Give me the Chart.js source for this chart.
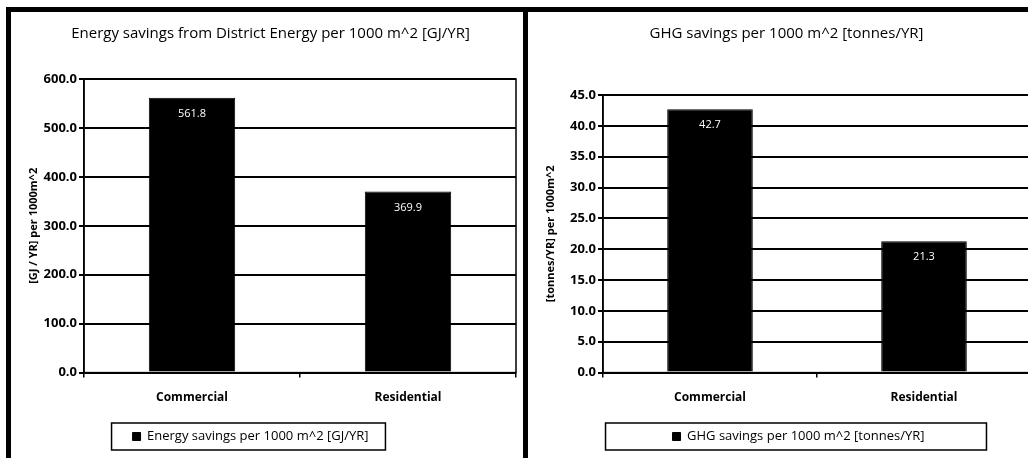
<!DOCTYPE html>
<html>
<head>
<meta charset="utf-8">
<script src="https://cdn.jsdelivr.net/npm/chart.js@4/dist/chart.umd.min.js"></script>
<style>
  body { margin: 0; background: #fff; width: 1028px; height: 458px; overflow: hidden; position: relative; }
  .panel { position: absolute; top: 7px; height: 460px; border: 5px solid #000; border-bottom: none; background: #fff; }
  #p1 { left: 6px; width: 512px; }
  #p2 { left: 523px; width: 520px; border-right: none; }
  canvas { display: block; }
</style>
</head>
<body>
<div class="panel" id="p1"><canvas id="energy" width="512" height="446"></canvas></div>
<div class="panel" id="p2"><canvas id="ghg" width="510" height="446"></canvas></div>
<script>
const CATEGORIES = ['Commercial', 'Residential'];
const ENERGY_VALUES = [561.8, 369.9];
const GHG_VALUES = [42.7, 21.3];
const ENERGY_TICKS = { max: 600, step: 100 };
const GHG_TICKS = { max: 45, step: 5 };

const FONT = "'Open Sans', 'DejaVu Sans', sans-serif";

// frame round the plot area, white value labels, box round the legend
const extras = {
  id: 'extras',
  afterLayout(chart, args, opts) {
    chart.legend.left += opts.shift;
    chart.legend.right += opts.shift;
  },
  afterDatasetsDraw(chart) {
    const { ctx, chartArea: a } = chart;
    ctx.save();
    ctx.strokeStyle = '#000';
    ctx.lineWidth = 1.5;
    ctx.strokeRect(a.left, a.top, a.right - a.left, a.bottom - a.top);
    ctx.fillStyle = '#fff';
    ctx.font = '11px ' + FONT;
    ctx.textAlign = 'center';
    ctx.textBaseline = 'middle';
    chart.getDatasetMeta(0).data.forEach((bar, i) => {
      ctx.fillText(chart.data.datasets[0].data[i].toFixed(1), bar.x, bar.y + 16);
    });
    ctx.restore();
  },
  afterDraw(chart, args, opts) {
    const hb = chart.legend.legendHitBoxes[0];
    if (!hb) return;
    const { ctx } = chart;
    ctx.save();
    ctx.strokeStyle = '#000';
    ctx.lineWidth = 1.5;
    ctx.strokeRect(hb.left - opts.boxPad[0], hb.top - 7, hb.width + opts.boxPad[0] + opts.boxPad[1], hb.height + 14);
    ctx.restore();
  }
};

function makeChart(id, title, yTitle, label, values, ticks, pad) {
  new Chart(document.getElementById(id), {
    type: 'bar',
    data: {
      labels: CATEGORIES,
      datasets: [{
        label,
        data: values,
        backgroundColor: '#000',
        borderColor: '#000',
        borderWidth: 1,
        barPercentage: 0.4,
        categoryPercentage: 1
      }]
    },
    options: {
      responsive: false,
      animation: false,
      layout: { padding: { left: 14, right: 7, top: 0, bottom: 5 } },
      scales: {
        x: {
          offset: true,
          grid: { display: true, drawOnChartArea: false, drawTicks: true, tickLength: 5, color: '#000', lineWidth: 1.5, offset: true },
          border: { display: true, color: '#000', width: 1.5 },
          ticks: { color: '#000', font: { family: FONT, size: 12, weight: 'bold' }, padding: 13 }
        },
        y: {
          min: 0,
          max: ticks.max,
          afterFit: s => { s.width = pad.yWidth; },
          grid: { color: '#000', lineWidth: 2, tickLength: 5 },
          border: { display: true, color: '#000', width: 1.5 },
          ticks: {
            stepSize: ticks.step,
            color: '#000',
            font: { family: FONT, size: 13, weight: 'bold' },
            padding: 2,
            callback: v => v.toFixed(1)
          },
          title: { display: true, text: yTitle, color: '#000', font: { family: FONT, size: 11, weight: 'bold' }, padding: 2 }
        }
      },
      plugins: {
        title: {
          display: true,
          text: title,
          color: '#000',
          font: { family: FONT, size: 15, weight: 'normal' },
          padding: { top: 13, bottom: pad.titleGap }
        },
        legend: {
          position: 'bottom',
          labels: {
            color: '#000',
            font: { family: FONT, size: 13 },
            boxWidth: 8,
            boxHeight: 8,
            padding: 12
          }
        },
        tooltip: { enabled: false },
        extras: { shift: pad.shift, boxPad: pad.boxPad }
      }
    },
    plugins: [extras]
  });
}

makeChart('energy', 'Energy savings from District Energy per 1000 m^2 [GJ/YR]', '[GJ / YR] per 1000m^2',
  'Energy savings per 1000 m^2 [GJ/YR]', ENERGY_VALUES, ENERGY_TICKS,
  { yWidth: 59, titleGap: 36, shift: -20, boxPad: [21, 17] });
makeChart('ghg', 'GHG savings per 1000 m^2 [tonnes/YR]', '[tonnes/YR] per 1000m^2',
  'GHG savings per 1000 m^2 [tonnes/YR]', GHG_VALUES, GHG_TICKS,
  { yWidth: 61, titleGap: 52, shift: 12, boxPad: [67, 62] });
</script>
</body>
</html>
